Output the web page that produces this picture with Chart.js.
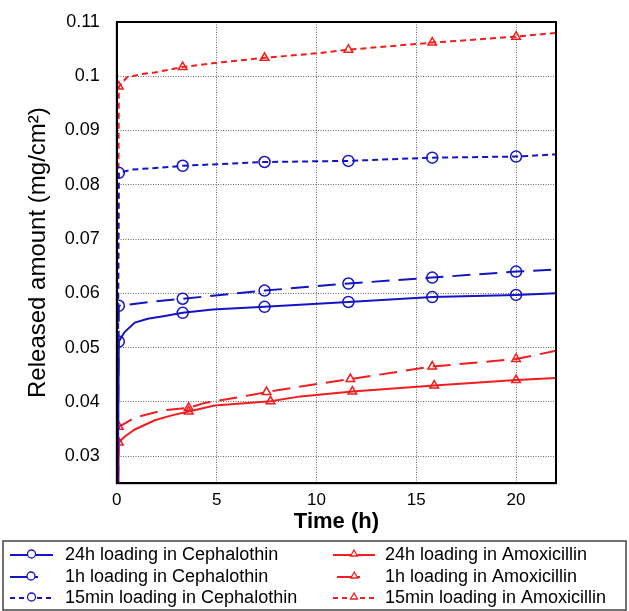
<!DOCTYPE html>
<html>
<head>
<meta charset="utf-8">
<script src="https://cdn.jsdelivr.net/npm/chart.js@4"></script>
<style>
  html, body { margin: 0; background: #fff; }
  #wrap { width: 629px; height: 611px; }
</style>
</head>
<body>
<div id="wrap"><canvas id="chart"></canvas></div>
<script>
// values
const xTicks = [0, 5, 10, 15, 20];
const yTicks = [0.03, 0.04, 0.05, 0.06, 0.07, 0.08, 0.09, 0.1, 0.11];

const ceph24hT = [0, 0.1, 0.4, 0.9, 1.55, 2.4, 3.3, 4.8, 7.4, 11.6, 15.8, 20, 22];
const ceph24hY = [0, 0.0511, 0.0529, 0.0546, 0.0553, 0.0558, 0.0564, 0.0570, 0.0575, 0.0584, 0.0593, 0.0597, 0.0600];
const ceph24hMarks = [0.1, 3.3, 7.4, 11.6, 15.8, 20];

const ceph1hT = [0, 0.1, 1.65, 3.3, 7.4, 11.6, 15.8, 20, 22];
const ceph1hY = [0, 0.0577, 0.0584, 0.0590, 0.0605, 0.0618, 0.0629, 0.0640, 0.0644];
const ceph1hMarks = [0.1, 3.3, 7.4, 11.6, 15.8, 20];

const ceph15T = [0, 0.1, 0.75, 2.75, 3.3, 7.4, 11.6, 15.8, 20, 22];
const ceph15Y = [0, 0.0822, 0.0828, 0.0833, 0.0835, 0.0842, 0.0844, 0.0850, 0.0852, 0.0856];
const ceph15Marks = [0.1, 3.3, 7.4, 11.6, 15.8, 20];

const amox24hT = [0, 0.1, 0.4, 0.9, 1.9, 2.75, 3.6, 4.9, 7.7, 9.2, 11.8, 15.9, 20, 22];
const amox24hY = [0, 0.0325, 0.0336, 0.0349, 0.0366, 0.0375, 0.0382, 0.0393, 0.0401, 0.0410, 0.0419, 0.0430, 0.0440, 0.0444];
const amox24hMarks = [0.1, 3.6, 7.7, 11.8, 15.9, 20];

const amox1hT = [0, 0.1, 0.9, 2.3, 3.6, 4.4, 6.8, 7.5, 9.7, 11.7, 15.8, 20, 22];
const amox1hY = [0, 0.0354, 0.0371, 0.0384, 0.0389, 0.0398, 0.0413, 0.0418, 0.0431, 0.0442, 0.0465, 0.0479, 0.0494];
const amox1hMarks = [0.1, 3.6, 7.5, 11.7, 15.8, 20];

const amox15T = [0, 0.1, 0.5, 1.25, 1.9, 3.3, 4.8, 7.4, 10.2, 11.6, 15.8, 20, 22];
const amox15Y = [0, 0.0981, 0.0998, 0.1004, 0.1007, 0.1017, 0.1024, 0.1034, 0.1043, 0.1049, 0.1062, 0.1073, 0.1080];
const amox15Marks = [0.1, 3.3, 7.4, 11.6, 15.8, 20];

const BLUE = 'rgb(20, 20, 195)';
const RED = 'rgb(240, 30, 30)';
const FONT = '"Liberation Sans", Arial, sans-serif';

function series(label, ts, ys, marks, color, style, dash) {
  const r = style === 'circle' ? 5.5 : 5;
  return {
    label: label,
    data: ts.map((t, i) => ({ x: t, y: ys[i] })),
    borderColor: color,
    borderWidth: 2,
    borderDash: dash,
    pointStyle: style,
    pointRadius: ts.map(t => marks.includes(t) ? r : 0),
    pointBorderColor: color,
    pointBackgroundColor: 'rgba(0,0,0,0)',
    pointBorderWidth: 1.5,
    tension: 0,
    fill: false
  };
}

const datasets = [
  series('24h loading in Cephalothin', ceph24hT, ceph24hY, ceph24hMarks, BLUE, 'circle', []),
  series('1h loading in Cephalothin', ceph1hT, ceph1hY, ceph1hMarks, BLUE, 'circle', [18, 9]),
  series('15min loading in Cephalothin', ceph15T, ceph15Y, ceph15Marks, BLUE, 'circle', [6, 4]),
  series('24h loading in Amoxicillin', amox24hT, amox24hY, amox24hMarks, RED, 'triangle', []),
  series('1h loading in Amoxicillin', amox1hT, amox1hY, amox1hMarks, RED, 'triangle', [18, 9]),
  series('15min loading in Amoxicillin', amox15T, amox15Y, amox15Marks, RED, 'triangle', [6, 4])
];

// frame round the plot + boxed two-column legend
const boxLegend = {
  id: 'boxLegend',
  afterDraw(chart) {
    const ctx = chart.ctx;
    const a = chart.chartArea;
    ctx.save();
    ctx.strokeStyle = '#000';
    ctx.lineWidth = 2;
    ctx.strokeRect(a.left, a.top, a.right - a.left, a.bottom - a.top);

    ctx.lineWidth = 1.5;
    ctx.strokeStyle = '#444';
    ctx.strokeRect(3, 541, 623, 69);

    const rows = [555, 577, 598];
    const cols = [
      { full: [10, 53], short: [10, 38], tx: 65 },
      { full: [333, 375], short: [337, 360], tx: 385 }
    ];
    ctx.font = '18px ' + FONT;
    ctx.textBaseline = 'middle';
    datasets.forEach((d, i) => {
      const c = cols[Math.floor(i / 3)];
      const row = i % 3;
      const y = rows[row];
      const [x0, x1] = row === 1 ? c.short : c.full;
      ctx.strokeStyle = d.borderColor;
      ctx.lineWidth = 2;
      ctx.setLineDash(row === 2 ? [5, 4] : []);
      ctx.beginPath();
      ctx.moveTo(x0, y);
      ctx.lineTo(x1, y);
      ctx.stroke();
      ctx.setLineDash([]);
      ctx.lineWidth = 1.3;
      ctx.fillStyle = '#fff';
      const mx = row === 1 ? x0 + (x1 - x0) * 0.75 : (x0 + x1) / 2;
      Chart.helpers.drawPoint(ctx, { pointStyle: d.pointStyle, radius: 4, borderWidth: 1.3 }, mx, y - 1);
      ctx.fillStyle = '#000';
      ctx.fillText(d.label, c.tx, y);
    });
    ctx.restore();
  }
};

new Chart(document.getElementById('chart'), {
  type: 'line',
  data: { datasets: datasets },
  options: {
    responsive: true,
    maintainAspectRatio: false,
    animation: false,
    layout: { padding: { left: 20, right: 73, top: 22, bottom: 72 } },
    plugins: { legend: { display: false }, tooltip: { enabled: false } },
    scales: {
      x: {
        type: 'linear',
        min: 0,
        max: 22,
        afterBuildTicks: s => { s.ticks = xTicks.map(v => ({ value: v })); },
        ticks: { color: '#000', padding: 7, font: { size: 17, family: FONT } },
        grid: { color: '#666', lineWidth: 1, drawTicks: false },
        border: { color: '#000', width: 2, dash: [1, 1.5] },
        title: { display: true, text: 'Time (h)', color: '#000', padding: { top: -9, bottom: 4 }, font: { size: 22, weight: 'bold', family: FONT } }
      },
      y: {
        min: 0.025,
        max: 0.11,
        afterBuildTicks: s => { s.ticks = yTicks.map(v => ({ value: v })); },
        afterFit: s => { s.paddingTop = 0; s.paddingBottom = 0; },
        ticks: { color: '#000', padding: 17, font: { size: 18, family: FONT }, callback: v => String(Math.round(v * 100) / 100) },
        grid: { color: '#666', lineWidth: 1, drawTicks: false },
        border: { color: '#000', width: 2, dash: [1, 1.5] },
        title: { display: true, text: 'Released amount (mg/cm²)', color: '#000', padding: { top: 4, bottom: -5 }, font: { size: 24, family: FONT } }
      }
    }
  },
  plugins: [boxLegend]
});
</script>
</body>
</html>
